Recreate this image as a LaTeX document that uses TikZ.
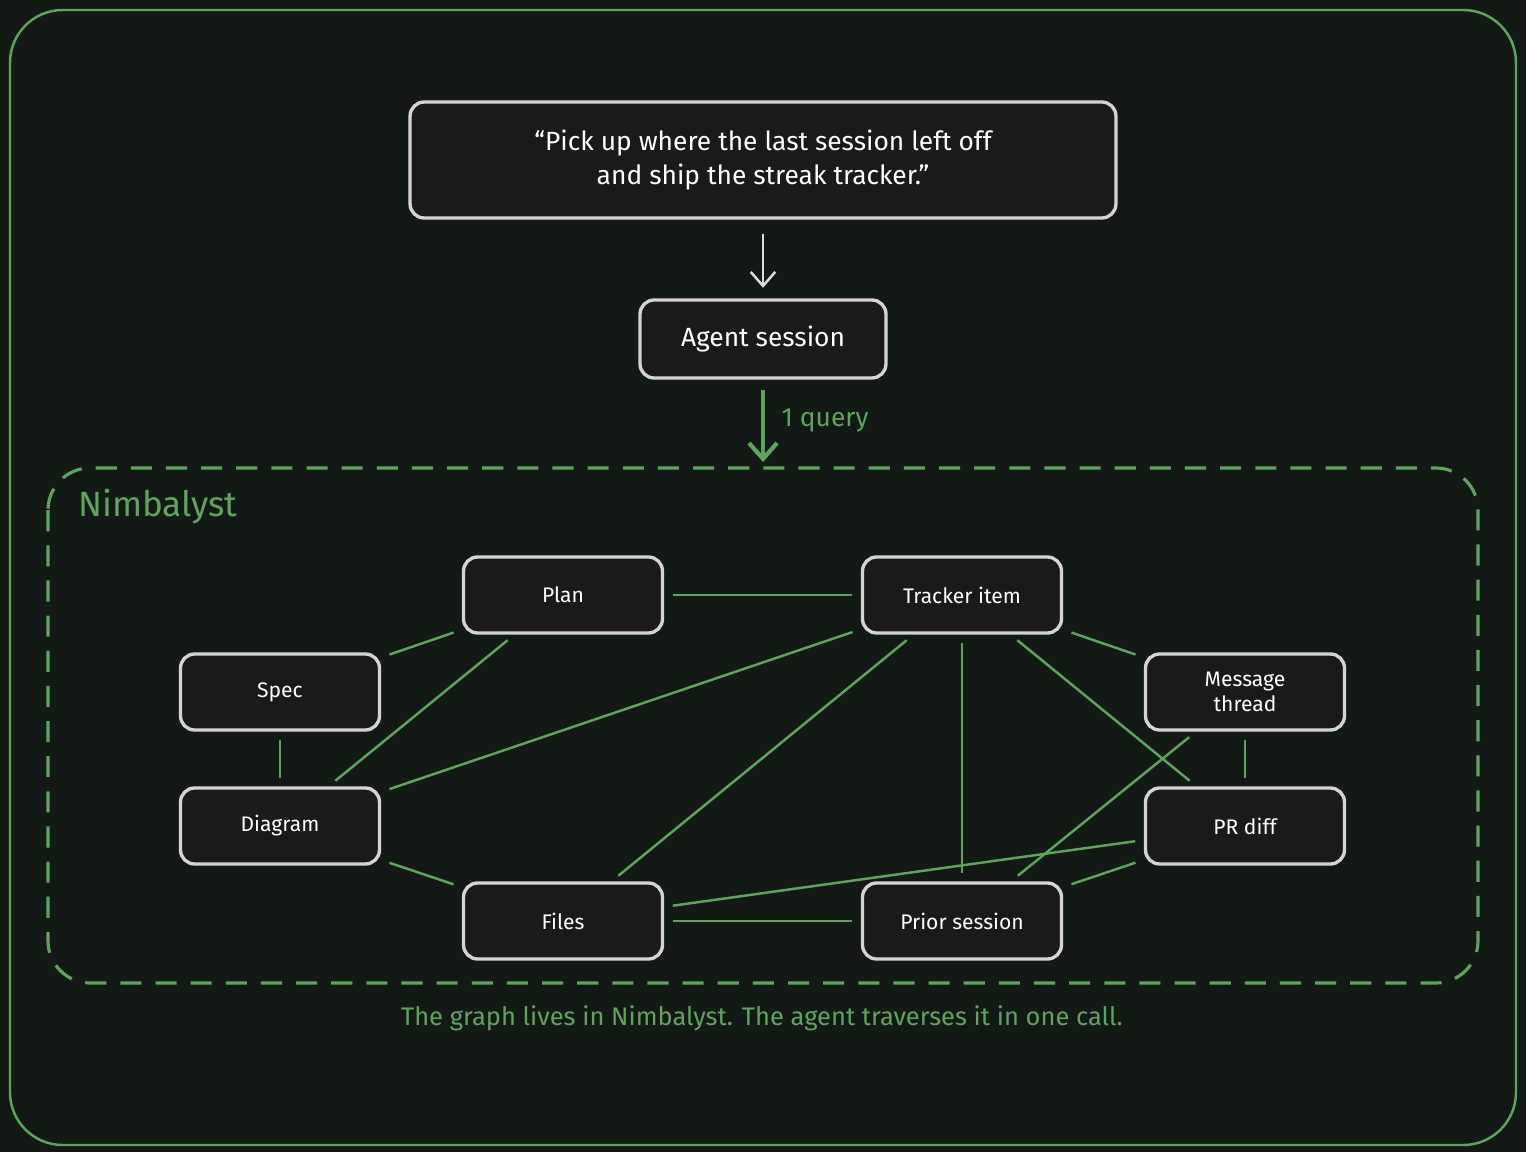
\documentclass[tikz,border=0pt]{standalone}
\usepackage{fontspec}
\setmainfont{Fira Sans}
\usetikzlibrary{arrows.meta}
\definecolor{bgdark}{HTML}{131A16}
\definecolor{boxfill}{HTML}{1A1A1A}
\definecolor{boxline}{HTML}{D4D4D4}
\definecolor{grn}{HTML}{5FA35F}
\tikzstyle{box}=[draw=boxline,fill=boxfill,line width=1.9pt,rounded corners=8pt,text=white,align=center]
\tikzstyle{item}=[box,minimum width=3.98cm,minimum height=1.52cm,font=\fontsize{12}{14}\selectfont]
\tikzstyle{link}=[draw=grn,line width=1.4pt,shorten >=5pt,shorten <=5pt]

\begin{document}
\begin{tikzpicture}[x=0.02cm,y=-0.02cm]
	\useasboundingbox (0,0) rectangle (1526,1152);
	\fill[bgdark] (0,0) rectangle (1526,1152);
	\draw[grn,line width=1.4pt,rounded corners=30pt] (10,10) rectangle (1516,1145);
	
	% request and agent
	\node[box,minimum width=14.12cm,minimum height=2.32cm,font=\fontsize{15}{19}\selectfont] (ask) at (763,160)
	  {``Pick up where the last session left off\\and ship the streak tracker.''};
	\node[box,minimum width=4.92cm,minimum height=1.56cm,font=\fontsize{15}{18}\selectfont] (agent) at (763,339) {Agent session};
	\draw[boxline!80,line width=1.4pt,-{Straight Barb[length=8pt,width=14pt]},shorten <=8pt,shorten >=6pt] (ask) -- (agent);
	
	% nimbalyst region
	\draw[grn,line width=1.8pt,dash pattern=on 12pt off 8pt,rounded corners=24pt] (48,468) rectangle (1478,983);
	\coordinate (top) at (763,462);
	\draw[grn,line width=2.4pt,-{Straight Barb[length=9pt,width=16pt]},shorten <=6pt] (agent) -- (top)
	  node[midway,right=6pt,text=grn,font=\fontsize{15}{18}\selectfont] {1 query};
	\node[text=grn,anchor=west,font=\fontsize{20}{24}\selectfont] (nimb) at (72,507) {Nimbalyst};
	
	\node[item] (plan) at (563,595) {Plan};
	\node[item] (tracker) at (962,595) {Tracker item};
	\node[item] (spec) at (280,692) {Spec};
	\node[item] (msg) at (1245,692) {Message\\thread};
	\node[item] (diagram) at (280,826) {Diagram};
	\node[item] (pr) at (1245,826) {PR diff};
	\node[item] (files) at (563,921) {Files};
	\node[item] (prior) at (962,921) {Prior session};
	
	\foreach \a/\b in {plan/tracker,plan/spec,plan/diagram,tracker/diagram,tracker/files,tracker/prior,
	  tracker/msg,tracker/pr,spec/diagram,msg/pr,msg/prior,diagram/files,files/prior,files/pr,prior/pr}
	  \draw[link] (\a) -- (\b);
	
	\node[text=grn,font=\fontsize{14.5}{17}\selectfont] (caption) at (762,1018)
	  {The graph lives in Nimbalyst. The agent traverses it in one call.};
\end{tikzpicture}
\end{document}
